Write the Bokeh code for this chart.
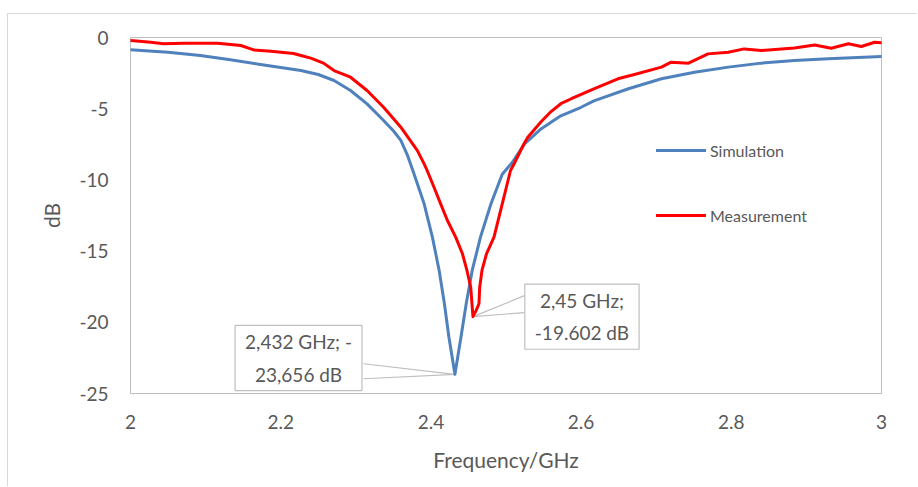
from bokeh.plotting import figure
from bokeh.models import Legend, LegendItem, Label, FixedTicker, NumeralTickFormatter
from bokeh.embed import file_html
from bokeh.resources import INLINE

# ---- data ----
sim_freq = [2.000, 2.050, 2.093, 2.133, 2.182, 2.227, 2.250, 2.271, 2.293, 2.315,
            2.337, 2.350, 2.360, 2.369, 2.377, 2.391, 2.402, 2.411, 2.418, 2.424,
            2.432, 2.440, 2.447, 2.455, 2.466, 2.480, 2.495, 2.508, 2.525, 2.547,
            2.573, 2.600, 2.617, 2.663, 2.707, 2.751, 2.796, 2.840, 2.884, 2.929,
            3.000]
sim_db = [-0.86, -1.03, -1.26, -1.57, -1.97, -2.32, -2.60, -3.02, -3.72, -4.66,
          -5.83, -6.55, -7.23, -8.3, -9.5, -11.68, -14.02, -16.36, -18.7, -21.05,
          -23.656, -21.05, -18.7, -16.36, -14.02, -11.68, -9.6, -8.8, -7.45, -6.4,
          -5.5, -4.9, -4.45, -3.6, -2.9, -2.44, -2.08, -1.8, -1.61, -1.5,
          -1.33]

meas_freq = [2.000, 2.027, 2.044, 2.071, 2.116, 2.147, 2.164, 2.187, 2.217, 2.227,
             2.240, 2.257, 2.271, 2.293, 2.315, 2.337, 2.360, 2.382, 2.391, 2.395,
             2.404, 2.413, 2.422, 2.433, 2.442, 2.448, 2.453, 2.456, 2.460, 2.464,
             2.465, 2.468, 2.474, 2.484, 2.495, 2.506, 2.511, 2.524, 2.529, 2.547,
             2.560, 2.573, 2.587, 2.617, 2.649, 2.671, 2.707, 2.720, 2.743, 2.769,
             2.796, 2.817, 2.840, 2.884, 2.911, 2.933, 2.956, 2.973, 2.991, 3.000]
meas_db = [-0.21, -0.33, -0.44, -0.40, -0.40, -0.56, -0.87, -0.96, -1.12, -1.26,
           -1.45, -1.80, -2.32, -2.79, -3.72, -4.90, -6.30, -7.94, -8.87, -9.34,
           -10.5, -11.68, -12.85, -14.02, -15.19, -16.36, -17.53, -19.602, -19.2, -18.7,
           -17.53, -16.36, -15.19, -14.02, -11.68, -9.34, -8.85, -7.46, -7.0, -5.9,
           -5.2, -4.65, -4.3, -3.6, -2.9, -2.6, -2.08, -1.73, -1.80, -1.15,
           -1.03, -0.80, -0.91, -0.73, -0.52, -0.75, -0.44, -0.63, -0.33, -0.37]

x_ticks = [2.0, 2.2, 2.4, 2.6, 2.8, 3.0]
y_ticks = [0, -5, -10, -15, -20, -25]
series_names = ["Simulation", "Measurement"]
sim_note = "2,432 GHz; -\n23,656 dB"
meas_note = "2,45 GHz;\n-19.602 dB"

TXT = "#595959"
FONT = "Lato"

FRAME_W, FRAME_H = 751, 356
p = figure(width=910, height=473, x_range=(2, 3), y_range=(-25, 0),
           output_backend="svg", toolbar_location=None,
           min_border_left=122, min_border_right=37, min_border_top=23,
           min_border_bottom=94, margin=(13, 0, 0, 7))
p.styles = {"border-left": "1px solid #d9d9d9", "border-top": "1px solid #d9d9d9"}
p.xgrid.visible = False
p.ygrid.visible = False
p.outline_line_color = "#bfbfbf"
p.outline_line_width = 1
p.background_fill_color = "white"
p.border_fill_color = "white"

for ax in (p.xaxis[0], p.yaxis[0]):
    ax.axis_line_color = None
    ax.major_tick_line_color = None
    ax.minor_tick_line_color = None
    ax.major_tick_in = 0
    ax.major_tick_out = 0
    ax.major_label_text_font = FONT
    ax.major_label_text_font_size = "19px"
    ax.major_label_text_color = TXT
    ax.axis_label_text_font = FONT
    ax.axis_label_text_font_size = "21px"
    ax.axis_label_text_font_style = "normal"
    ax.axis_label_text_color = TXT

p.xaxis.ticker = FixedTicker(ticks=x_ticks)
p.xaxis.formatter = NumeralTickFormatter(format="0.[0]")
p.yaxis.ticker = FixedTicker(ticks=y_ticks)
p.yaxis.formatter = NumeralTickFormatter(format="0")
p.xaxis.axis_label = "Frequency/GHz"
p.yaxis.axis_label = "dB"
p.xaxis.major_label_standoff = 21
p.xaxis.axis_label_standoff = 15
p.yaxis.major_label_standoff = 22
p.yaxis.axis_label_standoff = 12

# leader lines for the callouts (offsets converted from pixels)
dx = 1.0 / FRAME_W
dy = 25.0 / FRAME_H
i_s = sim_db.index(min(sim_db))
i_m = meas_db.index(min(meas_db))
sx, sy = sim_freq[i_s], sim_db[i_s]
mx, my = meas_freq[i_m], meas_db[i_m]
p.multi_line(xs=[[sx - 91.5 * dx, sx, sx - 91.5 * dx], [mx + 51.5 * dx, mx, mx + 51.5 * dx]],
             ys=[[sy + 10.6 * dy, sy, sy - 4.4 * dy], [my + 21 * dy, my, my + 4 * dy]],
             line_color="#bfbfbf", line_width=1.2)

r_sim = p.line(sim_freq, sim_db, line_color="#4f81bd", line_width=3,
               line_join="round", line_cap="round")
r_meas = p.line(meas_freq, meas_db, line_color="#ff0000", line_width=3,
                line_join="round", line_cap="round")

legend = Legend(items=[LegendItem(label=series_names[0], renderers=[r_sim]),
                       LegendItem(label=series_names[1], renderers=[r_meas])],
                location=(526, 168), padding=0, margin=0, border_line_color=None,
                background_fill_alpha=0, glyph_width=50, glyph_height=20,
                label_height=20, spacing=45, label_standoff=4,
                label_text_font=FONT, label_text_font_size="16px",
                label_text_color=TXT)
p.add_layout(legend)

lab1 = Label(x=sx, y=sy, x_offset=-156.4, y_offset=16.4, text=sim_note,
             text_align="center", text_baseline="middle", text_font=FONT,
             text_font_size="19px", text_color=TXT, text_line_height=1.4,
             border_line_color="#bfbfbf", border_line_width=1.2,
             background_fill_color="white", padding=(10, 5))
lab2 = Label(x=mx, y=my, x_offset=109, y_offset=0, text=meas_note,
             text_align="center", text_baseline="middle", text_font=FONT,
             text_font_size="19px", text_color=TXT, text_line_height=1.4,
             border_line_color="#bfbfbf", border_line_width=1.2,
             background_fill_color="white", padding=(10, 5))
p.add_layout(lab1)
p.add_layout(lab2)

open("out.html", "w").write(file_html(p, INLINE))
